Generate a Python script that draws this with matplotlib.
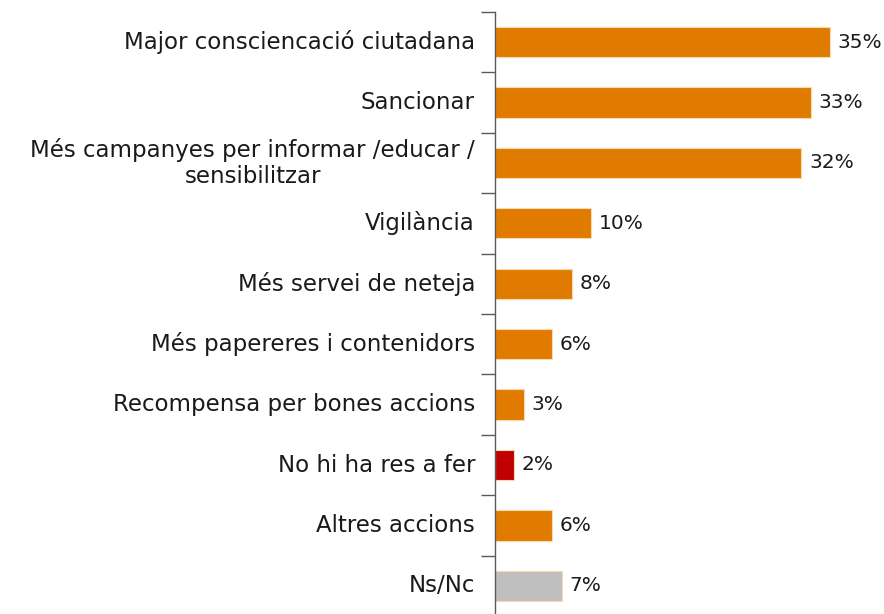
import matplotlib.pyplot as plt
import numpy as np

# dades
categories = [
    "Major consciencació ciutadana",
    "Sancionar",
    "Més campanyes per informar /educar /\nsensibilitzar",
    "Vigilància",
    "Més servei de neteja",
    "Més papereres i contenidors",
    "Recompensa per bones accions",
    "No hi ha res a fer",
    "Altres accions",
    "Ns/Nc",
]
values = [35, 33, 32, 10, 8, 6, 3, 2, 6, 7]
value_labels = ["35%", "33%", "32%", "10%", "8%", "6%", "3%", "2%", "6%", "7%"]

ORANGE = "#E07B00"
colors = [ORANGE] * 7 + ["#C00000", ORANGE, "#BFBFBF"]

plt.rcParams['font.family'] = ['DejaVu Sans']
FS_CAT = 16.5
FS_VAL = 14.5
TXT = "#1a1a1a"

fig = plt.figure(figsize=(8.84, 6.14), dpi=100)
ax = fig.add_axes([495 / 884, -2 / 614, 383 / 884, 604 / 614])

y = np.arange(len(categories))
ax.barh(y, values, height=0.5, color=colors, edgecolor="#F8D9B0", linewidth=0.8)
ax.set_xlim(0, 40)
ax.set_ylim(len(categories) - 0.5, -0.5)

for yi, v, lab in zip(y, values, value_labels):
    ax.text(v + 0.8, yi, lab, va="center", ha="left", fontsize=FS_VAL, color=TXT)

# etiquetes de categoria
trans = ax.get_yaxis_transform()
for yi, cat in zip(y, categories):
    ax.text(-20 / 383, yi, cat, transform=trans, ha="right", va="center",
            fontsize=FS_CAT, color=TXT, multialignment="center", linespacing=1.15)

ax.set_yticks(np.arange(-0.5, len(categories), 1.0))
ax.set_yticklabels([])
ax.tick_params(axis="y", which="major", length=10, width=1, color="#595959")

ax.set_xticks([])
for s in ["top", "right", "bottom"]:
    ax.spines[s].set_visible(False)
ax.spines["left"].set_color("#595959")
ax.spines["left"].set_linewidth(1)

fig.savefig("out.png", dpi=100)
